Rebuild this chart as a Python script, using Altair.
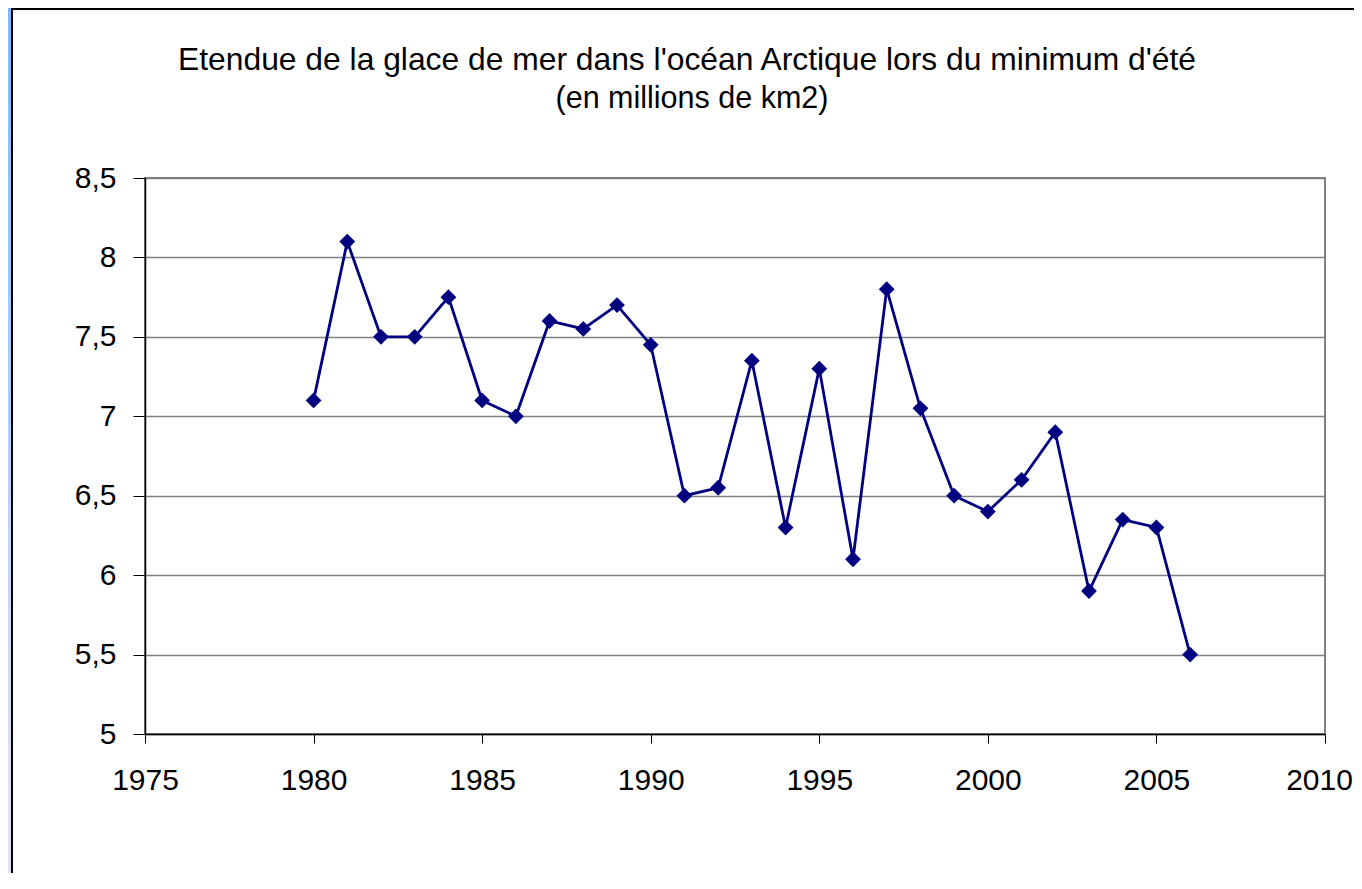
import altair as alt
import pandas as pd

years = list(range(1980, 2007))
extent = [7.1, 8.1, 7.5, 7.5, 7.75, 7.1, 7.0, 7.6, 7.55, 7.7, 7.45, 6.5, 6.55, 7.35,
          6.3, 7.3, 6.1, 7.8, 7.05, 6.5, 6.4, 6.6, 6.9, 5.9, 6.35, 6.3, 5.5]
x_ticks = [1975, 1980, 1985, 1990, 1995, 2000, 2005, 2010]
y_ticks = [5, 5.5, 6, 6.5, 7, 7.5, 8, 8.5]
title_lines = ["Etendue de la glace de mer dans l'océan Arctique lors du minimum d'été",
               "(en millions de km2)"]

df = pd.DataFrame({"annee": years, "etendue": extent})

FONT = "Liberation Sans"
W, H = 1180, 556
PL, PT, PR, PB = 137, 170, 29, 139

x_enc = alt.X("annee:Q", scale=alt.Scale(domain=[1975, 2010], nice=False, zero=False),
              axis=alt.Axis(values=x_ticks, format="d", title=None, grid=False,
                            domainColor="#000000", domainWidth=1.5, tickColor="#000000",
                            tickWidth=1, tickSize=9, labelFontSize=30, labelFont=FONT,
                            labelColor="#000000", labelPadding=22, labelFlush=False,
                            labelOffset={"condition": {"test": "datum.value == 2010", "value": -6},
                                         "value": 0}))
y_enc = alt.Y("etendue:Q", scale=alt.Scale(domain=[5, 8.5], nice=False, zero=False),
              axis=alt.Axis(values=y_ticks, title=None, grid=True, gridColor="#808080",
                            gridWidth=1.5, domainColor="#000000", domainWidth=1.5,
                            tickColor="#000000", tickWidth=1, tickSize=12,
                            labelFontSize=30, labelFont=FONT, labelColor="#000000",
                            labelPadding=17,
                            labelExpr="replace(toString(datum.value), '.', ',')"))

line = alt.Chart(df).mark_line(color="#000080", strokeWidth=2.8).encode(x=x_enc, y=y_enc)
points = alt.Chart(df).mark_point(shape="diamond", filled=True, color="#000080",
                                  size=250, opacity=1).encode(x="annee:Q", y="etendue:Q")

one = alt.Data(values=[{"k": 1}])
total_h = PT + H + PB

strip = alt.Chart(one).mark_rect(
    fill=alt.Gradient(gradient="linear",
                      stops=[alt.GradientStop(color="#7fb8ff", offset=0),
                             alt.GradientStop(color="#c9d8f4", offset=0.7),
                             alt.GradientStop(color="#e8e0f4", offset=1)],
                      x1=0, x2=0, y1=0, y2=1)
).encode(x=alt.value(-PL), x2=alt.value(-PL + 3), y=alt.value(-PT), y2=alt.value(total_h - PT))

black_left = alt.Chart(one).mark_rect(color="#000000").encode(
    x=alt.value(-PL + 3), x2=alt.value(-PL + 5), y=alt.value(-PT), y2=alt.value(total_h - PT))
black_top = alt.Chart(one).mark_rect(color="#000000").encode(
    x=alt.value(-PL + 3), x2=alt.value(W + PR), y=alt.value(-PT), y2=alt.value(-PT + 2))

t1 = alt.Chart(one).mark_text(text=title_lines[0], font=FONT, fontSize=31.8, color="#000000",
                              align="center", baseline="alphabetic").encode(
    x=alt.value(687 - 145), y=alt.value(70 - 178))
t2 = alt.Chart(one).mark_text(text=title_lines[1], font=FONT, fontSize=30.5, color="#000000",
                              align="center", baseline="alphabetic").encode(
    x=alt.value(692 - 145), y=alt.value(108 - 178))

chart = alt.layer(line, points, strip, black_left, black_top, t1, t2).properties(
    width=W, height=H,
    autosize=alt.AutoSizeParams(type="none"),
    padding={"left": PL, "top": PT, "right": PR, "bottom": PB},
    background="#ffffff",
).configure_view(stroke="#808080", strokeWidth=2)

chart.save("out.html", embed_options={"renderer": "svg", "actions": False})
